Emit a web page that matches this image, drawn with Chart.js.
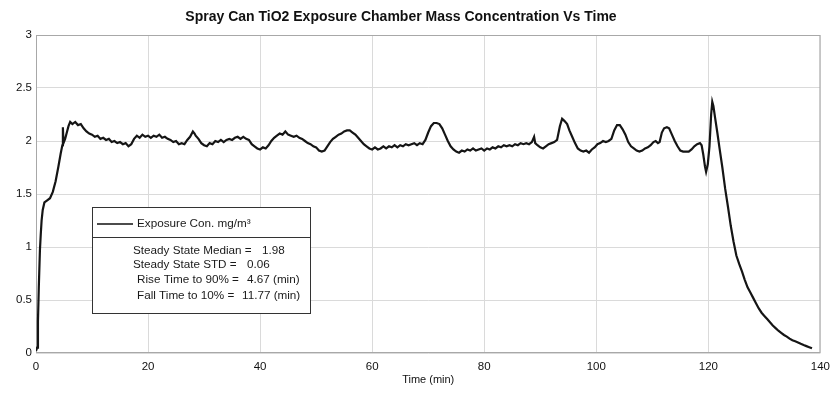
<!DOCTYPE html>
<html>
<head>
<meta charset="utf-8">
<script src="https://cdn.jsdelivr.net/npm/chart.js@4/dist/chart.umd.min.js"></script>
<style>
  html, body { margin: 0; padding: 0; background: #fff; }
  #wrap { width: 837px; height: 395px; }
</style>
</head>
<body>
<div id="wrap"><canvas id="chart" width="837" height="395"></canvas></div>
<script>
// time (min) and exposure concentration (mg/m3)
const timeMin = [
  0, 0.2, 0.35, 0.5, 0.7, 0.85, 1.0, 1.2, 1.5, 2.0, 2.5, 3.0, 3.5, 4.0, 4.4, 4.7, 4.8, 4.9, 5.2, 5.5, 5.8, 6.1, 6.5, 7.0, 7.5, 8.0, 8.5, 9.0, 9.5, 10.0,
  10.5, 11, 11.5, 12, 12.5, 13, 13.5, 14, 14.5, 15, 15.5, 16, 16.5, 17, 17.5, 18, 18.5, 19, 19.5, 20,
  20.5, 21, 21.5, 22, 22.5, 23, 23.5, 24, 24.5, 25, 25.5, 26, 26.5, 27, 27.5, 28, 28.3, 28.5, 29, 29.5, 30,
  30.5, 31, 31.5, 32, 32.5, 33, 33.5, 34, 34.5, 35, 35.5, 36, 36.5, 37, 37.5, 38, 38.5, 39, 39.5, 40,
  40.5, 41, 41.5, 42, 42.5, 43, 43.5, 44, 44.5, 45, 45.5, 46, 46.5, 47, 47.5, 48, 48.5, 49, 49.5, 50,
  50.5, 51, 51.5, 52, 52.5, 53, 53.5, 54, 54.5, 55, 55.5, 56, 56.5, 57, 57.5, 58, 58.5, 59, 59.5, 60,
  60.5, 61, 61.5, 62, 62.5, 63, 63.5, 64, 64.5, 65, 65.5, 66, 66.5, 67, 67.5, 68, 68.5, 69, 69.5, 70,
  70.5, 71, 71.5, 72, 72.5, 73, 73.5, 74, 74.5, 75, 75.5, 76, 76.5, 77, 77.5, 78, 78.5, 79, 79.5, 80,
  80.5, 81, 81.5, 82, 82.5, 83, 83.5, 84, 84.5, 85, 85.5, 86, 86.5, 87, 87.5, 88, 88.5, 88.9, 89.1, 89.5, 90,
  90.5, 91, 91.5, 92, 92.5, 93, 93.5, 93.9, 94.3, 94.8, 95.2, 95.7, 96.2, 96.7, 97.2, 97.7, 98.2, 98.7, 99.2, 99.7,
  100.2, 100.7, 101.2, 101.7, 102.2, 102.7, 103.2, 103.7, 104.2, 104.7, 105.2, 105.7, 106.2, 106.7, 107.2, 107.7, 108.2, 108.7, 109.2, 109.7,
  110.2, 110.6, 111.0, 111.3, 111.7, 112.1, 112.6, 113.0, 113.5, 114.0, 114.5, 115.0, 115.5, 116.0, 116.5, 117.0, 117.5, 118.0, 118.5, 118.8,
  119.1, 119.4, 119.6, 119.9, 120.2, 120.5, 120.7, 120.9, 121.2, 121.6, 122.0, 122.5, 123.0, 123.5, 124.0, 124.5, 125, 125.5, 126, 126.5,
  127, 127.5, 128, 128.5, 129, 129.5, 130, 130.5, 131, 131.5, 132, 132.5, 133, 133.5, 134, 134.5, 135, 135.5, 136, 136.5,
  137, 137.5, 138, 138.5
];
const concentration = [
  0.02, 0.05, 0.3, 0.62, 0.97, 1.12, 1.25, 1.35, 1.42, 1.44, 1.46, 1.52, 1.62, 1.76, 1.88, 1.96, 2.13, 1.98, 2.02, 2.08, 2.14, 2.18, 2.16, 2.18, 2.15, 2.16, 2.12, 2.09, 2.07, 2.06,
  2.04, 2.05, 2.02, 2.03, 2.01, 2.02, 1.99, 2.0, 1.98, 1.99, 1.97, 1.98, 1.95, 1.97, 2.02, 2.05, 2.03, 2.06, 2.04, 2.05,
  2.03, 2.05, 2.04, 2.06, 2.03, 2.04, 2.02, 2.01, 1.99, 2.0, 1.97, 1.98, 1.97, 2.01, 2.04, 2.09, 2.07, 2.05, 2.02, 1.98, 1.96,
  1.95, 1.98, 1.97, 2.0, 1.99, 2.01, 1.99, 2.01, 2.02, 2.01, 2.03, 2.04, 2.02, 2.04, 2.02, 2.01, 1.97, 1.95, 1.93, 1.92,
  1.94, 1.93, 1.96, 2.0, 2.03, 2.05, 2.07, 2.06, 2.09, 2.06, 2.05, 2.04, 2.05, 2.03, 2.02, 2.0, 1.98, 1.97, 1.95, 1.94,
  1.91, 1.9, 1.91, 1.95, 1.99, 2.02, 2.04, 2.06, 2.07, 2.09, 2.1, 2.1, 2.08, 2.06, 2.03, 2.0, 1.97, 1.95, 1.93, 1.92,
  1.94, 1.92, 1.93, 1.95, 1.93, 1.95, 1.94, 1.96, 1.94, 1.96, 1.95, 1.97, 1.96, 1.97, 1.98, 1.96, 1.98, 1.97, 2.01, 2.08,
  2.14, 2.17, 2.17, 2.16, 2.12, 2.06, 2.0, 1.95, 1.92, 1.9, 1.89, 1.91, 1.9, 1.92, 1.91, 1.93, 1.91, 1.92, 1.93, 1.91,
  1.93, 1.92, 1.94, 1.93, 1.95, 1.94, 1.96, 1.95, 1.96, 1.95, 1.97, 1.96, 1.98, 1.97, 1.98, 1.97, 1.99, 2.04, 1.98, 1.96, 1.94,
  1.93, 1.95, 1.97, 1.98, 1.99, 2.01, 2.14, 2.21, 2.19, 2.16, 2.1, 2.04, 1.98, 1.93, 1.91, 1.9, 1.91, 1.89, 1.92, 1.94,
  1.97, 1.98, 2.0, 1.99, 2.0, 2.02, 2.1, 2.15, 2.15, 2.11, 2.06, 1.99, 1.95, 1.93, 1.91, 1.9, 1.91, 1.93, 1.94, 1.96,
  1.99, 2.0, 1.98, 1.99, 2.08, 2.12, 2.13, 2.12, 2.06, 2.0, 1.95, 1.91, 1.9, 1.9, 1.9, 1.92, 1.95, 1.97, 1.98, 1.96,
  1.87, 1.76, 1.71, 1.78, 1.95, 2.25, 2.37, 2.33, 2.22, 2.08, 1.93, 1.75, 1.55, 1.38, 1.2, 1.05, 0.92, 0.84, 0.77, 0.69,
  0.62, 0.57, 0.52, 0.47, 0.42, 0.38, 0.35, 0.32, 0.29, 0.26, 0.235, 0.21, 0.19, 0.17, 0.155, 0.135, 0.12, 0.11, 0.1, 0.087,
  0.075, 0.065, 0.055, 0.045
];

const xTicks = [0, 20, 40, 60, 80, 100, 120, 140];
const yTicks = [0, 0.5, 1, 1.5, 2, 2.5, 3];

const chartTitle = 'Spray Can TiO2 Exposure Chamber Mass Concentration Vs Time';
const seriesLabel = 'Exposure Con. mg/m\u00B3';
const statLabels = ['Steady State Median =', 'Steady State STD =', 'Rise Time to 90% =', 'Fall Time to 10% ='];
const statValues = ['1.98', '0.06', '4.67 (min)', '11.77 (min)'];

const FONT = '"Liberation Sans", Arial, Helvetica, sans-serif';

// title + plot frame + legend/stat box
const decorPlugin = {
  id: 'decor',
  beforeDatasetsDraw(chart) {
    const { ctx, chartArea: a } = chart;
    ctx.save();
    ctx.strokeStyle = '#a8a8a8';
    ctx.lineWidth = 1;
    ctx.strokeRect(a.left + 0.5, a.top + 0.5, a.right - a.left - 1, a.bottom - a.top - 1);
    ctx.restore();
  },
  afterDraw(chart) {
    const ctx = chart.ctx;
    ctx.save();
    // title
    ctx.fillStyle = '#111';
    ctx.font = 'bold 14px ' + FONT;
    ctx.textAlign = 'center';
    ctx.textBaseline = 'middle';
    ctx.fillText(chartTitle, 401, 17);

    // legend box
    const bx = 92, by = 207, bw = 218, bh = 106;
    ctx.fillStyle = '#fff';
    ctx.fillRect(bx, by, bw, bh);
    ctx.strokeStyle = '#333';
    ctx.lineWidth = 1;
    ctx.strokeRect(bx + 0.5, by + 0.5, bw, bh);
    ctx.beginPath();
    ctx.moveTo(bx, 237.5);
    ctx.lineTo(bx + bw, 237.5);
    ctx.stroke();

    ctx.strokeStyle = '#111';
    ctx.lineWidth = 1.5;
    ctx.beginPath();
    ctx.moveTo(97, 224);
    ctx.lineTo(133, 224);
    ctx.stroke();

    ctx.fillStyle = '#1a1a1a';
    ctx.font = '11.7px ' + FONT;
    ctx.textAlign = 'left';
    ctx.textBaseline = 'middle';
    ctx.fillText(seriesLabel, 137, 224);

    const rowY = [251, 265, 280, 296];
    const labelX = [133, 133, 137, 137];
    const valueX = [262, 247, 247, 242];
    statLabels.forEach((s, i) => {
      ctx.fillText(s, labelX[i], rowY[i]);
      ctx.fillText(statValues[i], valueX[i], rowY[i]);
    });
    ctx.restore();
  }
};

new Chart(document.getElementById('chart'), {
  type: 'line',
  data: {
    datasets: [{
      label: seriesLabel,
      data: timeMin.map((t, i) => ({ x: t, y: concentration[i] })),
      borderColor: '#151515',
      borderWidth: 2.2,
      pointRadius: 0,
      tension: 0,
      fill: false
    }]
  },
  options: {
    responsive: false,
    animation: false,
    layout: { padding: { top: 35, right: 15, left: 0, bottom: 0 } },
    plugins: {
      legend: { display: false },
      title: { display: false },
      tooltip: { enabled: false }
    },
    scales: {
      x: {
        type: 'linear',
        min: 0,
        max: 140,
        afterBuildTicks: (s) => { s.ticks = xTicks.map(v => ({ value: v })); },
        afterFit: (s) => { s.height = 42; },
        ticks: { color: '#111', font: { family: FONT, size: 11.5 }, padding: 7, maxRotation: 0, callback: (v) => String(v) },
        grid: { color: '#dadada', lineWidth: 1, drawTicks: false },
        border: { display: false },
        title: { display: true, text: 'Time (min)', color: '#111', font: { family: FONT, size: 11 }, padding: { top: 0, bottom: 8 } }
      },
      y: {
        min: 0,
        max: 3,
        afterBuildTicks: (s) => { s.ticks = yTicks.map(v => ({ value: v })); },
        afterFit: (s) => { s.width = 36; },
        ticks: { color: '#111', font: { family: FONT, size: 11.5 }, padding: 4, callback: (v) => String(v) },
        grid: { color: '#dadada', lineWidth: 1, drawTicks: false },
        border: { display: false }
      }
    }
  },
  plugins: [decorPlugin]
});
</script>
</body>
</html>
